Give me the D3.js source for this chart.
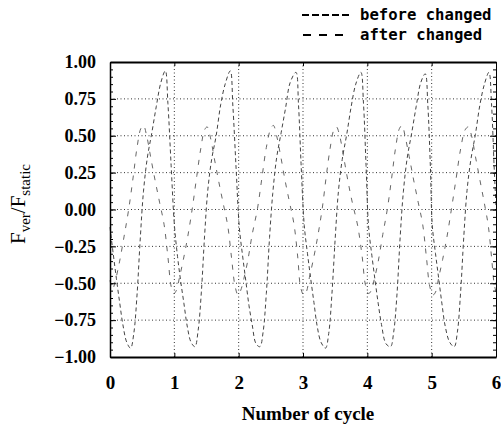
<!DOCTYPE html>
<html>
<head>
<meta charset="utf-8">
<script src="https://cdn.jsdelivr.net/npm/d3@7"></script>
<style>
  html, body { margin: 0; padding: 0; background: #fff; }
  svg { display: block; }
</style>
</head>
<body>
<svg id="chart" width="501" height="429"></svg>
<script>
// ---------- data ----------
const cycleTicks = [0, 1, 2, 3, 4, 5, 6];
const ratioTicks = [-1.00, -0.75, -0.50, -0.25, 0.00, 0.25, 0.50, 0.75, 1.00];
const seriesNames = ["before changed", "after changed"];

const beforeCycle = [
  0.00,0.05,0.10,0.15,0.20,0.26,0.32,0.37,0.42,0.47,0.52,0.58,0.65,0.72,0.79,0.86,0.90,0.95,
  1.00,1.05,1.10,1.15,1.20,1.26,1.32,1.37,1.42,1.47,1.52,1.58,1.65,1.72,1.79,1.87,1.91,1.96,
  2.01,2.06,2.11,2.16,2.21,2.27,2.33,2.38,2.43,2.48,2.53,2.59,2.66,2.73,2.80,2.89,2.93,2.97,
  3.02,3.07,3.12,3.17,3.22,3.28,3.35,3.40,3.45,3.50,3.55,3.61,3.68,3.75,3.82,3.90,3.94,3.98,
  4.02,4.07,4.12,4.17,4.22,4.29,4.36,4.41,4.46,4.51,4.56,4.62,4.69,4.76,4.83,4.90,4.94,4.98,
  5.01,5.06,5.11,5.16,5.21,5.28,5.35,5.40,5.45,5.50,5.55,5.61,5.68,5.75,5.82,5.89,5.93,5.97,6.00
];
const beforeValue = [
  -0.12,-0.30,-0.47,-0.63,-0.78,-0.90,-0.94,-0.84,-0.58,-0.20,0.12,0.35,0.52,0.70,0.86,0.94,0.72,0.30,
  -0.10,-0.32,-0.49,-0.64,-0.79,-0.90,-0.93,-0.82,-0.56,-0.18,0.13,0.34,0.50,0.71,0.85,0.94,0.70,0.28,
  -0.12,-0.31,-0.48,-0.65,-0.78,-0.91,-0.93,-0.83,-0.57,-0.19,0.11,0.35,0.52,0.69,0.86,0.93,0.71,0.31,
  -0.11,-0.30,-0.47,-0.63,-0.79,-0.90,-0.94,-0.84,-0.57,-0.20,0.12,0.34,0.51,0.70,0.85,0.93,0.72,0.30,
  -0.12,-0.31,-0.48,-0.64,-0.78,-0.91,-0.93,-0.83,-0.58,-0.19,0.12,0.35,0.52,0.70,0.86,0.92,0.71,0.29,
  -0.11,-0.30,-0.47,-0.64,-0.79,-0.90,-0.93,-0.83,-0.56,-0.18,0.13,0.34,0.51,0.71,0.85,0.93,0.72,0.30,0.02
];

const afterCycle = [
  0.00,0.04,0.09,0.15,0.22,0.29,0.36,0.42,0.48,0.52,0.57,0.63,0.70,0.77,0.84,0.90,0.95,
  0.99,1.03,1.08,1.14,1.21,1.28,1.35,1.41,1.47,1.51,1.56,1.62,1.69,1.76,1.83,1.89,1.94,
  1.99,2.03,2.08,2.14,2.21,2.29,2.36,2.43,2.50,2.54,2.59,2.65,2.72,2.79,2.86,2.92,2.96,
  3.01,3.05,3.10,3.16,3.23,3.30,3.36,3.42,3.48,3.52,3.57,3.63,3.70,3.77,3.85,3.92,3.97,
  4.02,4.06,4.11,4.17,4.24,4.31,4.38,4.44,4.50,4.54,4.59,4.65,4.72,4.79,4.86,4.92,4.97,
  5.02,5.06,5.11,5.17,5.24,5.31,5.38,5.45,5.52,5.57,5.62,5.68,5.75,5.82,5.88,5.93,5.97,6.00
];
const afterValue = [
  -0.48,-0.54,-0.47,-0.35,-0.18,0.00,0.22,0.42,0.55,0.57,0.50,0.36,0.20,0.05,-0.10,-0.32,-0.52,
  -0.57,-0.55,-0.46,-0.34,-0.18,0.01,0.23,0.41,0.54,0.56,0.49,0.35,0.19,0.04,-0.11,-0.33,-0.51,
  -0.58,-0.55,-0.47,-0.35,-0.17,0.00,0.21,0.42,0.55,0.57,0.50,0.37,0.20,0.05,-0.10,-0.33,-0.52,
  -0.58,-0.56,-0.46,-0.34,-0.18,0.01,0.22,0.41,0.54,0.56,0.50,0.36,0.19,0.04,-0.11,-0.32,-0.51,
  -0.57,-0.55,-0.47,-0.35,-0.17,0.00,0.22,0.42,0.55,0.57,0.49,0.36,0.20,0.05,-0.10,-0.33,-0.52,
  -0.58,-0.56,-0.46,-0.34,-0.18,0.01,0.21,0.41,0.54,0.56,0.50,0.36,0.20,0.04,-0.11,-0.32,-0.50,-0.56
];

// ---------- layout ----------
const svg = d3.select("#chart");
const L = 110, R = 496, T = 62, B = 357;
const x = d3.scaleLinear().domain([0, 6]).range([L, R]);
const y = d3.scaleLinear().domain([-1, 1]).range([B, T]);
const serif = "'Liberation Serif', 'Times New Roman', serif";

// grid
const grid = svg.append("g").attr("stroke", "#333").attr("stroke-width", 1)
  .attr("stroke-dasharray", "1,2.5");
grid.selectAll("line.h").data(ratioTicks.filter(v => Math.abs(v) < 1)).join("line")
  .attr("x1", L).attr("x2", R).attr("y1", d => y(d)).attr("y2", d => y(d));
grid.selectAll("line.v").data(cycleTicks.filter(v => v > 0 && v < 6)).join("line")
  .attr("class", "v")
  .attr("x1", d => x(d)).attr("x2", d => x(d)).attr("y1", T).attr("y2", B);

// series
const line = d3.line().curve(d3.curveCatmullRom.alpha(0.5));
const beforePts = beforeCycle.map((c, i) => [x(c), y(beforeValue[i])]);
const afterPts = afterCycle.map((c, i) => [x(c), y(afterValue[i])]);
svg.append("path").attr("d", line(beforePts)).attr("fill", "none")
  .attr("stroke", "#444").attr("stroke-width", 1).attr("stroke-dasharray", "4,3");
svg.append("path").attr("d", line(afterPts)).attr("fill", "none")
  .attr("stroke", "#555").attr("stroke-width", 0.9).attr("stroke-dasharray", "5,7");

// minor ticks
const minor = d3.range(-100, 101, 5).map(v => v / 100);
svg.append("g").attr("transform", `translate(${L},0)`)
  .call(d3.axisLeft(y).tickValues(minor).tickSize(-3).tickFormat(""))
  .call(g => g.select(".domain").remove());
svg.append("g").attr("transform", `translate(${R},0)`)
  .call(d3.axisRight(y).tickValues(minor).tickSize(-3).tickFormat(""))
  .call(g => g.select(".domain").remove());

// left axis
svg.append("g").attr("transform", `translate(${L},0)`)
  .call(d3.axisLeft(y).tickValues(ratioTicks).tickSizeInner(-6).tickSizeOuter(0)
    .tickPadding(14).tickFormat(d3.format(".2f")))
  .call(g => g.select(".domain").attr("stroke-width", 1.5))
  .call(g => g.selectAll("text").attr("font-family", serif).attr("font-weight", "bold")
    .attr("font-size", 18).attr("fill", "#000"));

// right axis
svg.append("g").attr("transform", `translate(${R},0)`)
  .call(d3.axisRight(y).tickValues(ratioTicks).tickSizeInner(-6).tickSizeOuter(0).tickFormat(""))
  .call(g => g.select(".domain").attr("stroke-width", 1));

// bottom axis
svg.append("g").attr("transform", `translate(0,${B})`)
  .call(d3.axisBottom(x).tickValues(cycleTicks).tickSizeInner(-4).tickSizeOuter(0)
    .tickPadding(19).tickFormat(d3.format("d")))
  .call(g => g.select(".domain").attr("stroke-width", 2))
  .call(g => g.selectAll("text").attr("font-family", serif).attr("font-weight", "bold")
    .attr("font-size", 19).attr("fill", "#000"));

// top axis
svg.append("g").attr("transform", `translate(0,${T})`)
  .call(d3.axisTop(x).tickValues(cycleTicks).tickSizeInner(-4).tickSizeOuter(0).tickFormat(""))
  .call(g => g.select(".domain").attr("stroke-width", 2));

// x title
svg.append("text").attr("x", 308).attr("y", 420).attr("text-anchor", "middle")
  .attr("font-family", serif).attr("font-weight", "bold").attr("font-size", 19)
  .text("Number of cycle");

// y title
const yt = svg.append("text")
  .attr("transform", "translate(25,204) rotate(-90)")
  .attr("text-anchor", "middle").attr("font-family", serif).attr("font-size", 21);
yt.append("tspan").text("F");
yt.append("tspan").attr("font-size", 15).attr("dy", 5).text("ver");
yt.append("tspan").attr("dy", -5).text("/F");
yt.append("tspan").attr("font-size", 15).attr("dy", 5).text("static");

// legend
const legend = [
  { name: seriesNames[0], dash: "7,3", x1: 302, x2: 350, yy: 15 },
  { name: seriesNames[1], dash: "8,8", x1: 303, x2: 344, yy: 35 }
];
const lg = svg.append("g");
lg.selectAll("line").data(legend).join("line")
  .attr("x1", d => d.x1).attr("x2", d => d.x2).attr("y1", d => d.yy).attr("y2", d => d.yy)
  .attr("stroke", "#000").attr("stroke-width", 2).attr("stroke-dasharray", d => d.dash);
lg.selectAll("text").data(legend).join("text")
  .attr("x", 360).attr("y", d => d.yy + 5)
  .attr("font-family", "'DejaVu Sans Mono', monospace").attr("font-weight", "bold")
  .attr("font-size", 15.6).text(d => d.name);
</script>
</body>
</html>
